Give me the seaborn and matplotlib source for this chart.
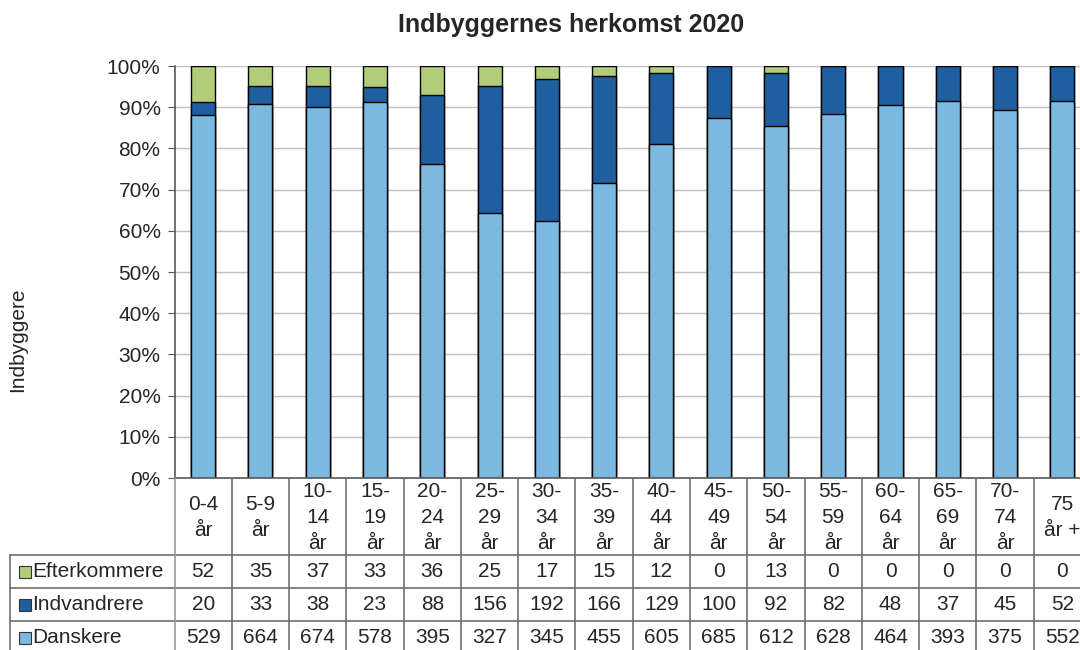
# import
import matplotlib
matplotlib.use('Agg')
import matplotlib.pyplot as plt
import matplotlib.ticker as mtick
import seaborn as sns
import pandas as pd

sns.set_style('white')
plt.rcParams['font.family'] = ['Liberation Sans', 'DejaVu Sans']

# data
categories = ['0-4\når', '5-9\når', '10-\n14\når', '15-\n19\når', '20-\n24\når', '25-\n29\når',
              '30-\n34\når', '35-\n39\når', '40-\n44\når', '45-\n49\når', '50-\n54\når',
              '55-\n59\når', '60-\n64\når', '65-\n69\når', '70-\n74\når', '75\når +']
efterkommere = [52, 35, 37, 33, 36, 25, 17, 15, 12, 0, 13, 0, 0, 0, 0, 0]
indvandrere = [20, 33, 38, 23, 88, 156, 192, 166, 129, 100, 92, 82, 48, 37, 45, 52]
danskere = [529, 664, 674, 578, 395, 327, 345, 455, 605, 685, 612, 628, 464, 393, 375, 552]

series_names = ['Efterkommere', 'Indvandrere', 'Danskere']
colors = {'Danskere': '#7CB9E0', 'Indvandrere': '#1F5E9F', 'Efterkommere': '#B1CD7B'}

df = pd.DataFrame({'cat': categories, 'Efterkommere': efterkommere,
                   'Indvandrere': indvandrere, 'Danskere': danskere})
total = df[series_names].sum(axis=1)
df['p_dansk'] = df['Danskere'] / total
df['p_indv'] = (df['Danskere'] + df['Indvandrere']) / total
df['p_all'] = (df['Danskere'] + df['Indvandrere'] + df['Efterkommere']) / total

# figure layout (px based, 1080x650)
W, H = 1080, 650
fig = plt.figure(figsize=(W / 100, H / 100), dpi=100)
x0, x1 = 174.5, 1091.0   # plot area runs past the right edge like the original
y_top, y_bot = 66, 478
ax = fig.add_axes([x0 / W, (H - y_bot) / H, (x1 - x0) / W, (y_bot - y_top) / H])

# stacked bars: draw cumulative heights from top to bottom
bw = 0.42
for col, name in [('p_all', 'Efterkommere'), ('p_indv', 'Indvandrere'), ('p_dansk', 'Danskere')]:
    sns.barplot(data=df, x='cat', y=col, color=colors[name], saturation=1, edgecolor='black',
                linewidth=1, width=bw, errorbar=None, ax=ax, order=categories)

fs = 15
n = len(categories)
ax.set_xlim(-0.5, n - 0.5)
ax.set_ylim(0, 1)
ax.set_yticks([i / 10 for i in range(11)])
ax.yaxis.set_major_formatter(mtick.PercentFormatter(1.0, decimals=0))
ax.yaxis.grid(True, color='#C0C0C0', linewidth=1)
ax.set_axisbelow(True)
ax.tick_params(axis='y', direction='out', length=5, color='#595959', labelsize=fs, pad=5, left=True)
ax.tick_params(axis='x', bottom=False, labelbottom=False)
ax.set_xlabel('')
ax.set_ylabel('')
for side in ['top', 'right']:
    ax.spines[side].set_visible(False)
for side in ['left', 'bottom']:
    ax.spines[side].set_color('#595959')
    ax.spines[side].set_linewidth(1.2)

# title and y label
fig.text(571 / W, 1 - 25 / H, 'Indbyggernes herkomst 2020', ha='center', va='center',
         fontsize=18, fontweight='bold')
fig.text(18 / W, 1 - 340 / H, 'Indbyggere', ha='center', va='center', rotation=90, fontsize=fs)

# data table below the plot
tb_top, tb_bot = 478, 655
tax = fig.add_axes([x0 / W, (H - tb_bot) / H, (x1 - x0) / W, (tb_bot - tb_top) / H])
tax.set_xlim(-0.5, n - 0.5)
tax.set_ylim(tb_bot - tb_top, 0)
tax.axis('off')

col_w = (x1 - x0) / n
def px_to_x(px):
    return (px - x0) / col_w - 0.5

line_c = '#6E6E6E'
hdr_h, row_h = 77, 33
leg_left = px_to_x(10)
row_tops = [hdr_h + k * row_h for k in range(4)]
for yy in row_tops:
    tax.plot([leg_left, n - 0.5], [yy, yy], color=line_c, lw=1.2, clip_on=False)
for i in range(n + 1):
    tax.plot([i - 0.5, i - 0.5], [0, row_tops[-1]], color='#9A9A9A' if i == 0 else line_c,
             lw=1.2, clip_on=False)
tax.plot([leg_left, leg_left], [hdr_h, row_tops[-1]], color=line_c, lw=1.2, clip_on=False)

for i, c in enumerate(categories):
    tax.text(i, hdr_h / 2 + 1, c, ha='center', va='center', fontsize=fs,
             multialignment='center', linespacing=1.45)

rows = [('Efterkommere', efterkommere), ('Indvandrere', indvandrere), ('Danskere', danskere)]
for k, (name, vals) in enumerate(rows):
    yc = hdr_h + k * row_h + row_h / 2
    tax.plot([px_to_x(25)], [yc], marker='s', markersize=8, markerfacecolor=colors[name],
             markeredgecolor='#333333', markeredgewidth=0.8, clip_on=False)
    tax.text(px_to_x(32), yc, name, ha='left', va='center', fontsize=fs, clip_on=False)
    for i, v in enumerate(vals):
        tax.text(i, yc, str(v), ha='center', va='center', fontsize=fs)

fig.savefig('out.png', dpi=100)
